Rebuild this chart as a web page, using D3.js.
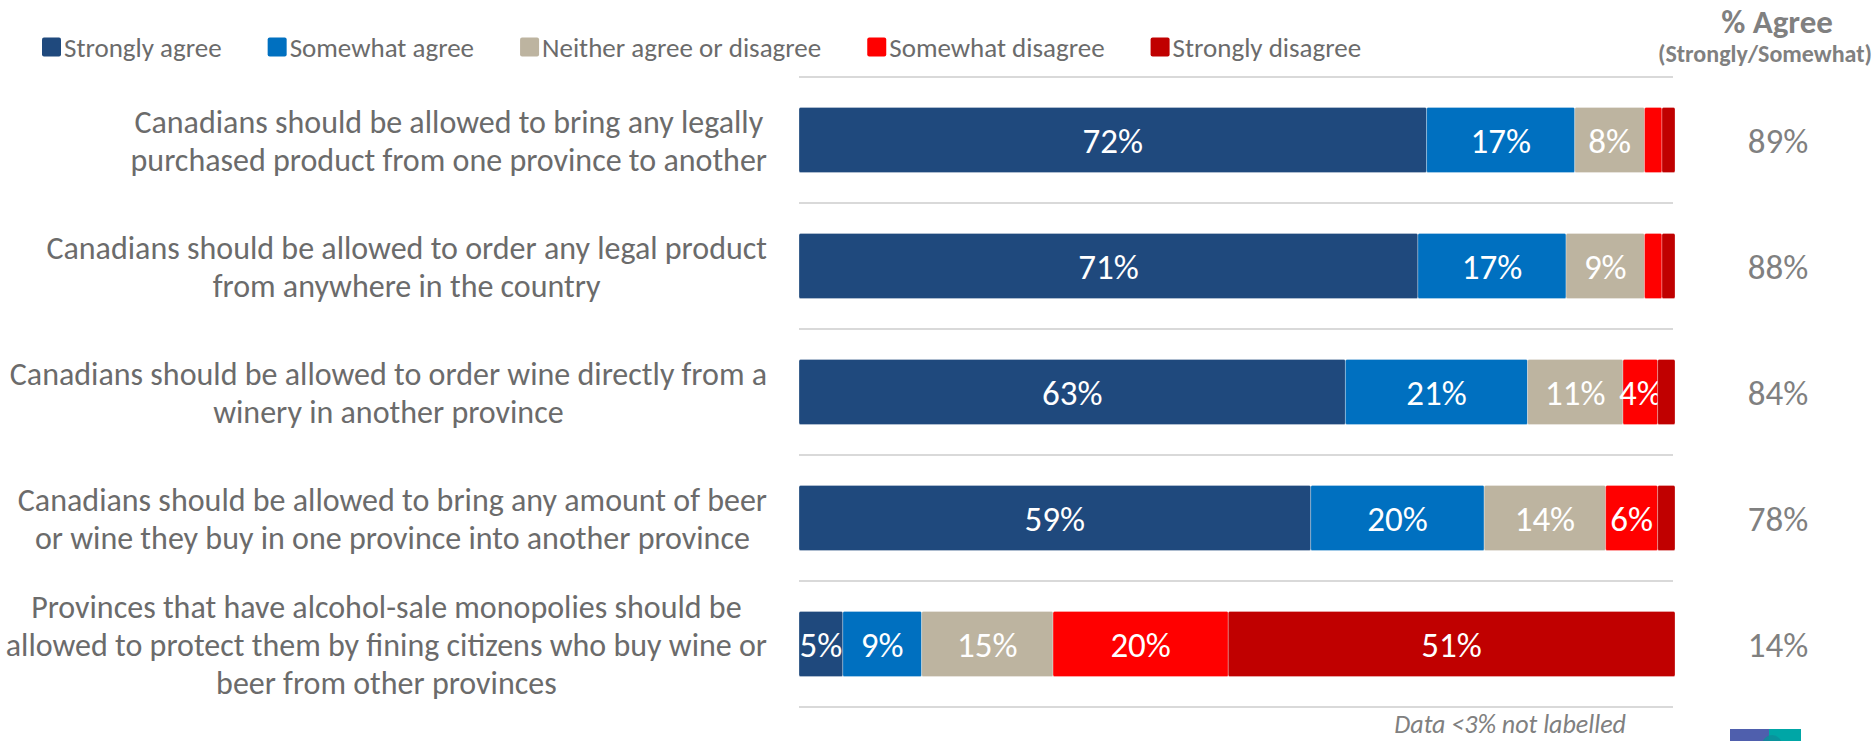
<!DOCTYPE html>
<html>
<head>
<meta charset="utf-8">
<script src="https://cdn.jsdelivr.net/npm/d3@7"></script>
<style>
  html, body { margin: 0; padding: 0; background: #ffffff; }
  svg { display: block; font-family: Carlito, Lato, "Open Sans", sans-serif; }
</style>
</head>
<body>
<svg id="chart" width="1874" height="741"></svg>
<script>
// Survey statements (category axis), line breaks as shown on the axis
const categories = [
  "Canadians should be allowed to bring any legally\npurchased product from one province to another",
  "Canadians should be allowed to order any legal product\nfrom anywhere in the country",
  "Canadians should be allowed to order wine directly from a\nwinery in another province",
  "Canadians should be allowed to bring any amount of beer\nor wine they buy in one province into another province",
  "Provinces that have alcohol-sale monopolies should be\nallowed to protect them by fining citizens who buy wine or\nbeer from other provinces"
];

// Response series, in stacking order
const seriesNames = ["Strongly agree", "Somewhat agree", "Neither agree or disagree", "Somewhat disagree", "Strongly disagree"];

// Percent of respondents per statement
const stronglyAgree    = [72, 71, 63, 59, 5];
const somewhatAgree    = [17, 17, 21, 20, 9];
const neitherAgree     = [8, 9, 11, 14, 15];
const somewhatDisagree = [2, 2, 4, 6, 20];
const stronglyDisagree = [1.5, 1.5, 2, 2, 51];

// Combined agreement column
const agreeTotals = [89, 88, 84, 78, 14];

// Values below this are left unlabelled
const labelThreshold = 3;

const seriesColors = ["#1F497D", "#0070C0", "#BDB4A0", "#FF0000", "#C00000"];

// Build rows for the stack layout
const columns = [stronglyAgree, somewhatAgree, neitherAgree, somewhatDisagree, stronglyDisagree];
const rows = categories.map((c, i) => {
  const r = { category: c };
  seriesNames.forEach((s, j) => { r[s] = columns[j][i]; });
  return r;
});

const svg = d3.select("#chart");
const textGray = "#6b6b6b";
const valueGray = "#808080";

// 100% stacked layout
const stacked = d3.stack().keys(seriesNames).offset(d3.stackOffsetExpand)(rows);

const x = d3.scaleLinear().domain([0, 1]).range([799, 1675]);
const y = d3.scaleBand().domain(categories).range([77, 707])
  .paddingInner(0.484).paddingOuter(0.242);
const color = d3.scaleOrdinal().domain(seriesNames).range(seriesColors);

// Horizontal separators between statements
const sepYs = d3.range(categories.length + 1).map(k => y.range()[0] + k * y.step());
svg.append("g").selectAll("line").data(sepYs).join("line")
  .attr("x1", x(0)).attr("x2", x(1) - 2)
  .attr("y1", d => d).attr("y2", d => d)
  .attr("stroke", "#d9d9d9").attr("stroke-width", 2);

// Bar segments
const layer = svg.append("g").selectAll("g").data(stacked).join("g")
  .attr("fill", d => color(d.key));

layer.selectAll("rect").data(d => d.map(p => ({ key: d.key, p }))).join("rect")
  .attr("x", d => x(d.p[0]))
  .attr("y", d => y(d.p.data.category))
  .attr("width", d => x(d.p[1]) - x(d.p[0]))
  .attr("height", y.bandwidth())
  .attr("rx", 1.5)
  .attr("stroke", "rgba(255,255,255,0.28)")
  .attr("stroke-width", 1);

// Segment value labels
layer.selectAll("text").data(d => d.map(p => ({ key: d.key, p })).filter(d => d.p.data[d.key] >= labelThreshold))
  .join("text")
  .attr("x", d => (x(d.p[0]) + x(d.p[1])) / 2)
  .attr("y", d => y(d.p.data.category) + y.bandwidth() / 2)
  .attr("dy", "0.36em")
  .attr("text-anchor", "middle")
  .attr("fill", "#ffffff")
  .attr("font-size", 35)
  .text(d => d.p.data[d.key] + "%");

// Category labels: centred lines, block right-aligned against the bars
const labelRight = 767;
const lineHeight = 38;
const catG = svg.append("g");
categories.forEach(c => {
  const lines = c.split("\n");
  const g = catG.append("g");
  const cy = y(c) + y.bandwidth() / 2;
  const texts = lines.map((ln, i) => g.append("text")
    .attr("y", cy + (i - (lines.length - 1) / 2) * lineHeight)
    .attr("dy", "0.36em")
    .attr("text-anchor", "middle")
    .attr("fill", textGray)
    .attr("font-size", 32)
    .text(ln));
  const maxW = d3.max(texts, t => t.node().getComputedTextLength());
  texts.forEach(t => t.attr("x", labelRight - maxW / 2));
});

// % Agree column
svg.append("text")
  .attr("x", 1777).attr("y", 21).attr("dy", "0.36em")
  .attr("text-anchor", "middle").attr("font-weight", "bold")
  .attr("fill", valueGray).attr("font-size", 33)
  .text("% Agree");
svg.append("text")
  .attr("x", 1872).attr("y", 53).attr("dy", "0.36em")
  .attr("text-anchor", "end").attr("font-weight", "bold")
  .attr("fill", valueGray).attr("font-size", 24)
  .text("(Strongly/Somewhat)");
svg.append("g").selectAll("text").data(agreeTotals).join("text")
  .attr("x", 1778)
  .attr("y", (d, i) => y(categories[i]) + y.bandwidth() / 2)
  .attr("dy", "0.36em")
  .attr("text-anchor", "middle")
  .attr("fill", valueGray)
  .attr("font-size", 35)
  .text(d => d + "%");

// Legend, laid out left to right
const legend = svg.append("g");
let lx = 42;
seriesNames.forEach(s => {
  legend.append("rect")
    .attr("x", lx).attr("y", 37.5).attr("width", 19).attr("height", 19)
    .attr("rx", 2).attr("fill", color(s));
  const t = legend.append("text")
    .attr("x", lx + 22).attr("y", 47).attr("dy", "0.36em")
    .attr("fill", textGray).attr("font-size", 27)
    .text(s);
  lx += 22 + t.node().getComputedTextLength() + 46;
});

// Footnote
svg.append("text")
  .attr("x", 1626).attr("y", 724).attr("dy", "0.36em")
  .attr("text-anchor", "end").attr("font-style", "italic")
  .attr("fill", valueGray).attr("font-size", 26)
  .text("Data <3% not labelled");

// Corner logo (partly off the page)
const logo = svg.append("g");
logo.append("rect").attr("x", 1730).attr("y", 729).attr("width", 39).attr("height", 30).attr("fill", "#4F5FAD");
logo.append("rect").attr("x", 1769).attr("y", 729).attr("width", 32).attr("height", 30).attr("fill", "#00A6A6");
logo.append("circle").attr("cx", 1772).attr("cy", 745).attr("r", 10).attr("fill", "#0B8F9A").attr("opacity", 0.8);
</script>
</body>
</html>
